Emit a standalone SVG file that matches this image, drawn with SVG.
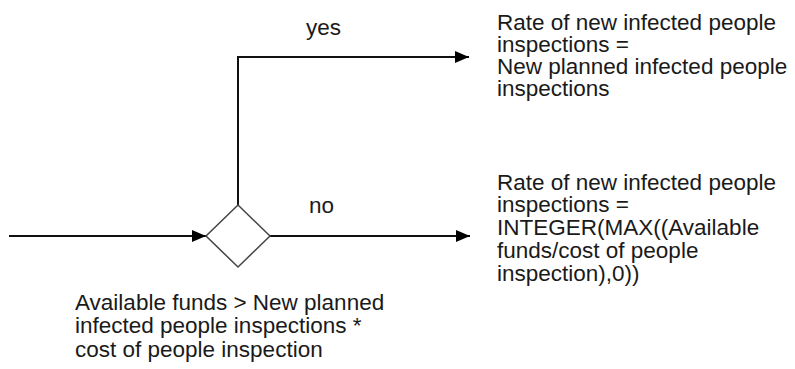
<svg xmlns="http://www.w3.org/2000/svg" width="795" height="369" viewBox="0 0 795 369">
<style>
.t{font-family:"Liberation Sans",Arial,sans-serif;font-size:22.5px;fill:#1a1a1a}
.c{fill:none;stroke:#111;stroke-width:2}
</style>
<defs>
<marker id="ah" markerWidth="14" markerHeight="12" refX="14" refY="6" orient="auto" markerUnits="userSpaceOnUse">
<path d="M0,0 L14,6 L0,12 Z" fill="#000"/>
</marker>
</defs>
<rect width="795" height="369" fill="#fff"/>
<g id="connectors">
<line class="c" x1="9" y1="236" x2="206" y2="236" marker-end="url(#ah)"/>
<polyline class="c" points="238,205 238,57 469,57" marker-end="url(#ah)"/>
<line class="c" x1="270" y1="236" x2="470" y2="236" marker-end="url(#ah)"/>
<text class="t" x="306" y="35">yes</text>
<text class="t" x="309" y="213">no</text>
</g>
<g id="decision">
<polygon points="238,205 270,236 238,267 206,236" fill="#fff" stroke="#444" stroke-width="1.5"/>
<text class="t" x="75" y="310">Available funds &gt; New planned</text>
<text class="t" x="75" y="333">infected people inspections *</text>
<text class="t" x="75" y="357">cost of people inspection</text>
</g>
<g id="yes-result">
<text class="t" x="497" y="30">Rate of new infected people</text>
<text class="t" x="497" y="52">inspections =</text>
<text class="t" x="497" y="74">New planned infected people</text>
<text class="t" x="497" y="96">inspections</text>
</g>
<g id="no-result">
<text class="t" x="497" y="190">Rate of new infected people</text>
<text class="t" x="497" y="212">inspections =</text>
<text class="t" x="497" y="235">INTEGER(MAX((Available</text>
<text class="t" x="497" y="258">funds/cost of people</text>
<text class="t" x="497" y="281">inspection),0))</text>
</g>
</svg>
